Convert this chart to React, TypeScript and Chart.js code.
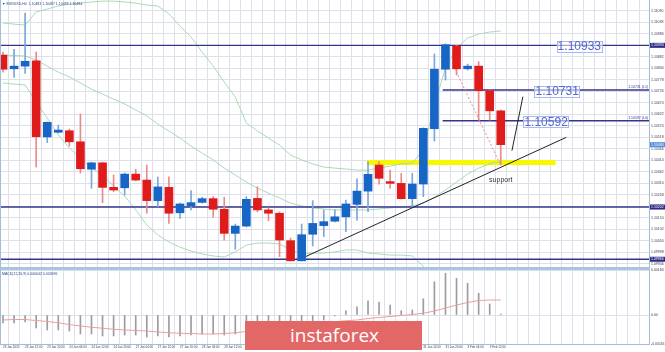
import React, { useEffect, useRef } from "react";
import { Chart, registerables } from "chart.js";
Chart.register(...registerables);

// ---------- data (EURUSD H4) ----------
const opens = [1.10889, 1.10827, 1.10839, 1.10863, 1.10519, 1.1054, 1.10547, 1.10497, 1.10373, 1.10402, 1.10291, 1.10289, 1.10351, 1.10324, 1.10231, 1.10291, 1.10176, 1.10207, 1.10223, 1.1024, 1.10192, 1.10083, 1.10116, 1.10241, 1.10189, 1.10174, 1.1005, 1.09959, 1.10079, 1.10118, 1.10138, 1.10158, 1.10214, 1.10274, 1.10392, 1.10317, 1.10309, 1.1024, 1.10306, 1.10556, 1.10825, 1.1093, 1.10827, 1.10839, 1.10728, 1.10637];
const highs = [1.10903, 1.10915, 1.11079, 1.10903, 1.10587, 1.10573, 1.10555, 1.10623, 1.10405, 1.10405, 1.10347, 1.10356, 1.10373, 1.10392, 1.10338, 1.10339, 1.1022, 1.10276, 1.10247, 1.10249, 1.10246, 1.10125, 1.10249, 1.10294, 1.10198, 1.1018, 1.10062, 1.10125, 1.10231, 1.10189, 1.10189, 1.10234, 1.1033, 1.10407, 1.10407, 1.10369, 1.10354, 1.10354, 1.1056, 1.10894, 1.1094, 1.10934, 1.10848, 1.10859, 1.10731, 1.10641];
const lows = [1.10812, 1.10788, 1.10806, 1.10383, 1.10493, 1.10537, 1.10478, 1.10356, 1.10287, 1.10222, 1.10271, 1.10256, 1.1032, 1.10174, 1.10204, 1.10128, 1.10151, 1.10189, 1.1022, 1.10156, 1.10053, 1.10011, 1.10112, 1.1018, 1.1014, 1.09978, 1.09958, 1.09958, 1.10026, 1.10068, 1.10135, 1.10091, 1.10143, 1.10181, 1.10306, 1.10287, 1.10238, 1.10204, 1.10249, 1.105, 1.10776, 1.10799, 1.10821, 1.10595, 1.10595, 1.10392];
const closes = [1.10825, 1.10839, 1.10861, 1.1052, 1.10585, 1.1055, 1.10497, 1.10375, 1.10402, 1.10291, 1.10279, 1.10351, 1.10324, 1.10231, 1.10293, 1.10174, 1.10216, 1.10222, 1.1024, 1.10192, 1.10083, 1.10116, 1.10237, 1.10189, 1.10174, 1.10053, 1.09959, 1.10077, 1.10128, 1.10136, 1.10158, 1.10216, 1.10274, 1.1035, 1.10332, 1.10309, 1.1024, 1.10306, 1.10558, 1.10825, 1.10936, 1.10827, 1.10839, 1.10728, 1.10637, 1.10484];

const bbUpper = [1.11034, 1.11029, 1.11025, 1.11084, 1.11097, 1.11111, 1.1112, 1.11124, 1.11129, 1.11133, 1.11133, 1.11129, 1.11124, 1.11115, 1.11111, 1.11075, 1.1102, 1.10971, 1.10903, 1.1084, 1.10767, 1.10699, 1.10582, 1.10546, 1.10514, 1.10482, 1.10437, 1.10415, 1.10397, 1.10383, 1.10378, 1.10374, 1.10369, 1.10369, 1.10378, 1.10387, 1.10397, 1.10401, 1.1046, 1.10663, 1.1083, 1.10921, 1.10966, 1.10984, 1.10993, 1.10998];
const bbMiddle = [1.10889, 1.10887, 1.10885, 1.10867, 1.10839, 1.10812, 1.1079, 1.10763, 1.10735, 1.10713, 1.1069, 1.10668, 1.10641, 1.10614, 1.10577, 1.10546, 1.10514, 1.10478, 1.10446, 1.10415, 1.10378, 1.10347, 1.10315, 1.10288, 1.10265, 1.10243, 1.1022, 1.10207, 1.10198, 1.10193, 1.10189, 1.10189, 1.10189, 1.10189, 1.10193, 1.10198, 1.10202, 1.10207, 1.1022, 1.10247, 1.10279, 1.10315, 1.10351, 1.10378, 1.10397, 1.1041];
const bbLower = [1.10763, 1.10758, 1.10754, 1.10677, 1.10604, 1.10528, 1.10469, 1.10424, 1.10378, 1.10347, 1.10297, 1.10252, 1.10189, 1.10121, 1.10076, 1.10044, 1.10021, 1.10003, 1.0999, 1.09981, 1.09976, 1.09999, 1.1003, 1.10039, 1.10039, 1.10035, 1.10008, 1.0999, 1.09994, 1.09994, 1.09999, 1.10008, 1.10008, 1.09994, 1.0999, 1.09985, 1.09985, 1.09981, 1.09935, 1.09827, 1.09728, 1.0971, 1.09737, 1.09773, 1.098, 1.09823];

const macdHist = [-0.00032, -0.00032, -0.00028, -0.00052, -0.0006, -0.0006, -0.00064, -0.00076, -0.00076, -0.00084, -0.00084, -0.0008, -0.0008, -0.00088, -0.00084, -0.00088, -0.00084, -0.0008, -0.00076, -0.00076, -0.0008, -0.00076, -0.00064, -0.0006, -0.0006, -0.00064, -0.00068, -0.00052, -0.00036, -0.0002, -0.00004, 0.00017, 0.00033, 0.00057, 0.00052, 0.0004, 0.00017, 0.0002, 0.00065, 0.00133, 0.00167, 0.00147, 0.00127, 0.00087, 0.00044, 0.00004];
const macdSignal = [-0.0002, -0.00018, -0.00018, -0.00022, -0.00026, -0.00031, -0.00038, -0.00044, -0.00049, -0.00053, -0.00057, -0.0006, -0.00062, -0.00064, -0.00068, -0.00071, -0.00073, -0.00074, -0.00076, -0.00076, -0.00074, -0.00071, -0.00066, -0.00062, -0.00057, -0.00052, -0.00047, -0.00042, -0.00037, -0.00032, -0.00027, -0.00023, -0.0002, -0.00014, -0.0001, -0.00006, -0.00002, 0.00002, 0.00007, 0.00016, 0.00028, 0.0004, 0.0005, 0.00058, 0.0006, 0.0006];

const timeLabelIdx = [0, 2, 4, 6, 8, 10, 12, 14, 16, 18, 20, 22, 24, 26, 28, 30, 32, 34, 36, 38, 40, 42, 44];
const timeLabels = ["23 Jan 2020", "23 Jan 12:00", "23 Jan 20:00", "24 Jan 04:00", "24 Jan 12:00", "24 Jan 20:00", "27 Jan 04:00", "27 Jan 12:00", "27 Jan 20:00", "28 Jan 04:00", "28 Jan 12:00", "28 Jan 20:00", "29 Jan 04:00", "29 Jan 12:00", "29 Jan 20:00", "30 Jan 04:00", "30 Jan 12:00", "30 Jan 20:00", "31 Jan 04:00", "31 Jan 12:00", "31 Jan 20:00", "3 Feb 04:00", "3 Feb 12:00"];

const priceTicks = [1.1109, 1.11038, 1.10986, 1.10934, 1.10882, 1.1083, 1.10778, 1.10726, 1.10674, 1.10622, 1.1057, 1.10518, 1.10466, 1.10414, 1.10362, 1.1031, 1.10258, 1.10206, 1.10154, 1.10102, 1.1005, 1.09998, 1.09946];
const macdTicks = [-0.00116, 0, 0.0018];

const levelPrices = [1.10933, 1.10731, 1.10592, 1.10202, 1.09966];
const levelStartIdx = [null, 39.75, 39.75, null, null];
const tagTexts = ["1.10933", "1.10731", "1.10592"];
const tagPrices = [1.10933, 1.10731, 1.10592];
const tagIdx = [52.1, 50.1, 49.1];
const objNames = ["1.10731 (L1)", "1.10592 (L0)"];
const objNamePrices = [1.10731, 1.10592];
const axisMarkPrices = [1.10933, 1.10484, 1.10202, 1.09966];
const axisMarkBid = [false, true, false, false];

const supportPrice = 1.10403;
const supportFromIdx = 32.9;
const supportToIdx = 49.95;
const trendA = [{ x: 26.83, y: 1.09966 }, { x: 50.92, y: 1.10517 }];
const trendB = [{ x: 46.01, y: 1.10457 }, { x: 47.0, y: 1.10701 }];
const fibLine = [{ x: 40.83, y: 1.1083 }, { x: 44.9, y: 1.10401 }];
const supportLabel = { x: 45, y: 1.10322, text: "support" };
const headerMain = "▼ EURUSD,H4  1.10483 1.10487 1.10478 1.10484";
const headerMacd = "MACD(12,26,9) 0.000042 0.000596";

// ---------- config ----------
const X_MIN = -0.27, X_MAX = 58.4;
const P_MIN = 1.09931, P_MAX = 1.11138;
const M_MIN = -0.00116, M_MAX = 0.0018;
const FONT = '"Liberation Sans", "DejaVu Sans", sans-serif';
const GRID = "#dde0ea";
const FRAME = "#a4bcd8";
const UP = "#1766c6", DOWN = "#e01b1b";
const UP_WICK = "#7aa6dc", DOWN_WICK = "#ea8a8a";
const LEVEL = "#34348e";
const BB = "#a9d9b9";
const AXIS_TEXT = "#3a3a55";

const xTicks = (s: any) => {
  const t: any[] = [];
  for (let i = 0; i <= Math.floor(X_MAX); i++) t.push({ value: i });
  s.ticks = t;
};

const line = (data: any[], color: string, width: number, order: number, extra: any = {}) => ({
  type: "line", data, borderColor: color, backgroundColor: color, borderWidth: width,
  pointRadius: 0, fill: false, tension: 0, order, ...extra,
});

const mainDecor = {
  id: "mainDecor",
  afterDatasetsDraw(chart: any) {
    const { ctx, chartArea: a, scales } = chart;
    const x = scales.x, y = scales.y;
    ctx.save();
    // tags
    ctx.font = `12px ${FONT}`;
    ctx.textAlign = "center";
    ctx.textBaseline = "middle";
    tagTexts.forEach((t, k) => {
      const cx = x.getPixelForValue(tagIdx[k]);
      const cy = y.getPixelForValue(tagPrices[k]) + 1;
      const w = ctx.measureText(t).width + 2;
      ctx.fillStyle = "rgba(255,255,255,0.55)";
      ctx.fillRect(cx - w / 2, cy - 5.5, w, 11);
      ctx.strokeStyle = "#a9b9ee";
      ctx.lineWidth = 1;
      ctx.strokeRect(Math.round(cx - w / 2) + 0.5, Math.round(cy - 5.5) + 0.5, Math.round(w), 11);
      ctx.fillStyle = "#5068d4";
      ctx.fillText(t, cx, cy + 0.5);
    });
    // object names
    ctx.font = `3.5px ${FONT}`;
    ctx.fillStyle = LEVEL;
    ctx.textAlign = "right";
    ctx.textBaseline = "bottom";
    objNames.forEach((t, k) => ctx.fillText(t, a.right - 1, y.getPixelForValue(objNamePrices[k]) - 1));
    // support label
    ctx.font = `7px ${FONT}`;
    ctx.fillStyle = "#333";
    ctx.textAlign = "center";
    ctx.textBaseline = "middle";
    ctx.fillText(supportLabel.text, x.getPixelForValue(supportLabel.x), y.getPixelForValue(supportLabel.y));
    // header
    ctx.font = `3.5px ${FONT}`;
    ctx.textAlign = "left";
    ctx.textBaseline = "top";
    ctx.fillStyle = "#2a3f8f";
    ctx.fillText(headerMain, a.left + 2, a.top + 2);
    // left frame
    ctx.strokeStyle = FRAME;
    ctx.lineWidth = 1;
    ctx.beginPath();
    ctx.moveTo(a.left + 0.5, a.top);
    ctx.lineTo(a.left + 0.5, a.bottom);
    ctx.stroke();
    // axis marks
    axisMarkPrices.forEach((p, k) => {
      const cy = y.getPixelForValue(p);
      ctx.fillStyle = axisMarkBid[k] ? "#4a8fe0" : "#2c2c86";
      ctx.fillRect(a.right + 1, cy - 2.5, 15, 5);
      ctx.fillStyle = "#fff";
      ctx.font = `3.5px ${FONT}`;
      ctx.textAlign = "left";
      ctx.textBaseline = "middle";
      ctx.fillText(p.toFixed(5), a.right + 2, cy);
    });
    ctx.restore();
  },
};

const macdDecor = {
  id: "macdDecor",
  afterDatasetsDraw(chart: any) {
    const { ctx, chartArea: a } = chart;
    ctx.save();
    ctx.font = `3.5px ${FONT}`;
    ctx.textAlign = "left";
    ctx.textBaseline = "top";
    ctx.fillStyle = "#2a3f8f";
    ctx.fillText(headerMacd, a.left + 2, a.top + 2);
    ctx.strokeStyle = FRAME;
    ctx.lineWidth = 1;
    ctx.beginPath();
    ctx.moveTo(a.left + 0.5, a.top);
    ctx.lineTo(a.left + 0.5, a.bottom);
    ctx.stroke();
    ctx.restore();
  },
};

export default function App() {
  const mainRef = useRef<HTMLCanvasElement | null>(null);
  const macdRef = useRef<HTMLCanvasElement | null>(null);

  useEffect(() => {
    const isUp = closes.map((c, i) => c >= opens[i]);
    const pts = (arr: number[]) => arr.map((v, i) => ({ x: i, y: v }));
    const levelSets = levelPrices.map((p, k) =>
      line([{ x: levelStartIdx[k] ?? X_MIN, y: p }, { x: X_MAX, y: p }], LEVEL, 1.4, 4)
    );

    const main = new Chart(mainRef.current as HTMLCanvasElement, {
      type: "bar",
      data: {
        datasets: [
          {
            type: "bar", data: opens.map((o, i) => ({ x: i, y: [o, closes[i]] })),
            backgroundColor: isUp.map((u) => (u ? UP : DOWN)), barThickness: 8, grouped: false, order: 1,
          },
          {
            type: "bar", data: lows.map((l, i) => ({ x: i, y: [l, highs[i]] })),
            backgroundColor: isUp.map((u) => (u ? UP_WICK : DOWN_WICK)), barThickness: 1, grouped: false, order: 2,
          },
          line(trendA, "#222", 1, 3),
          line(trendB, "#222", 1, 3),
          line(fibLine, "#ee8a8a", 1, 3, { borderDash: [2, 2] }),
          ...levelSets,
          line(pts(bbUpper), BB, 1, 5),
          line(pts(bbMiddle), BB, 1, 5),
          line(pts(bbLower), BB, 1, 5),
          line([{ x: supportFromIdx, y: supportPrice }, { x: supportToIdx, y: supportPrice }], "#f7f700", 5, 6, { borderCapStyle: "butt" }),
        ] as any,
      },
      options: {
        responsive: false, animation: false, devicePixelRatio: 1, events: [],
        layout: { padding: 0 },
        plugins: { legend: { display: false }, tooltip: { enabled: false } },
        scales: {
          x: {
            type: "linear", min: X_MIN, max: X_MAX, offset: false, afterBuildTicks: xTicks,
            ticks: { display: false }, grid: { color: GRID, offset: true, drawTicks: false }, border: { display: false },
            afterFit: (s: any) => { s.height = 0; s.paddingLeft = 0; s.paddingRight = 0; },
          },
          y: {
            type: "linear", position: "right", min: P_MIN, max: P_MAX,
            afterBuildTicks: (s: any) => { s.ticks = priceTicks.map((v) => ({ value: v })); },
            ticks: { autoSkip: false, font: { size: 3.5, family: FONT }, color: AXIS_TEXT, padding: 2, callback: (v: any) => Number(v).toFixed(5) },
            grid: { color: GRID, drawTicks: false }, border: { display: true, color: FRAME },
            afterFit: (s: any) => { s.width = 16; s.paddingTop = 0; s.paddingBottom = 0; },
          },
        },
      } as any,
      plugins: [mainDecor],
    });

    const macd = new Chart(macdRef.current as HTMLCanvasElement, {
      type: "bar",
      data: {
        datasets: [
          line(pts(macdSignal), "#e8a0a0", 1, 1),
          { type: "bar", data: pts(macdHist), backgroundColor: "#9c9c9c", barThickness: 1, grouped: false, order: 2 },
        ] as any,
      },
      options: {
        responsive: false, animation: false, devicePixelRatio: 1, events: [],
        layout: { padding: { top: 3 } },
        plugins: { legend: { display: false }, tooltip: { enabled: false } },
        scales: {
          x: {
            type: "linear", min: X_MIN, max: X_MAX, offset: false, afterBuildTicks: xTicks,
            ticks: {
              autoSkip: false, maxRotation: 0, minRotation: 0, align: "start", padding: 1,
              font: { size: 3, family: FONT }, color: AXIS_TEXT,
              callback: (v: any) => { const k = timeLabelIdx.indexOf(Number(v)); return k >= 0 ? timeLabels[k] : ""; },
            },
            grid: { color: GRID, offset: true, drawTicks: false }, border: { display: true, color: FRAME },
            afterFit: (s: any) => { s.height = 8; s.paddingLeft = 0; s.paddingRight = 0; },
          },
          y: {
            type: "linear", position: "right", min: M_MIN, max: M_MAX,
            afterBuildTicks: (s: any) => { s.ticks = macdTicks.map((v) => ({ value: v })); },
            ticks: { autoSkip: false, font: { size: 3.5, family: FONT }, color: AXIS_TEXT, padding: 2,
              callback: (v: any) => (Number(v) === 0 ? "0.00" : Number(v).toFixed(5)) },
            grid: { color: GRID, drawTicks: false }, border: { display: true, color: FRAME },
            afterFit: (s: any) => { s.width = 16; s.paddingTop = 0; s.paddingBottom = 0; },
          },
        },
      } as any,
      plugins: [macdDecor],
    });

    return () => { main.destroy(); macd.destroy(); };
  }, []);

  return (
    <div style={{ position: "fixed", left: 0, top: 0, width: 665, height: 352, background: "#fff", overflow: "hidden" }}>
      <canvas ref={mainRef} width={665} height={267} style={{ position: "absolute", left: 0, top: 0, display: "block" }} />
      <canvas ref={macdRef} width={665} height={85} style={{ position: "absolute", left: 0, top: 267, display: "block" }} />
      <div style={{ position: "absolute", left: 0, top: 267, width: 650, height: 3, background: "#a9c4dd" }} />
      <div style={{ position: "absolute", left: 245, top: 321, width: 177, height: 29, background: "#e26868" }}>
        <span style={{ position: "absolute", left: 45, top: 0, lineHeight: "29px", fontFamily: '"Open Sans", sans-serif', fontSize: 19, color: "#fff", whiteSpace: "nowrap" }}>instaforex</span>
      </div>
    </div>
  );
}
